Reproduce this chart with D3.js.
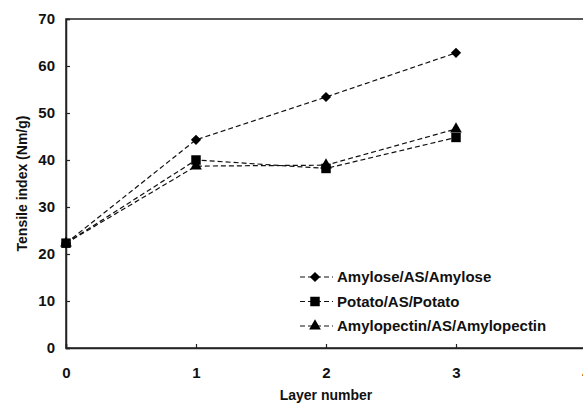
<!DOCTYPE html>
<html>
<head>
<meta charset="utf-8">
<script src="https://cdn.jsdelivr.net/npm/d3@7"></script>
<style>
  body { margin: 0; background: #fff; }
  svg { font-family: "Liberation Sans", Arial, sans-serif; font-weight: bold; }
</style>
</head>
<body>
<div id="chart"></div>
<script>
// chart data
const layers = [0, 1, 2, 3];
const seriesNames = ["Amylose/AS/Amylose", "Potato/AS/Potato", "Amylopectin/AS/Amylopectin"];
const amyloseVals = [22.3, 44.3, 53.4, 62.8];
const potatoVals = [22.3, 40.0, 38.2, 44.8];
const amylopectinVals = [22.3, 38.7, 38.9, 46.6];
const xTicks = [0, 1, 2, 3, 4];
const yTicks = [0, 10, 20, 30, 40, 50, 60, 70];

const series = [
  { name: seriesNames[0], values: amyloseVals, symbol: d3.symbolSquare, size: 52, rot: 45 },
  { name: seriesNames[1], values: potatoVals, symbol: d3.symbolSquare, size: 90, rot: 0 },
  { name: seriesNames[2], values: amylopectinVals, symbol: d3.symbolTriangle, size: 60, rot: 0 }
];

const W = 583, H = 403;
const margin = {top: 19, right: -3, bottom: 55, left: 66};
const width = W - margin.left - margin.right;
const height = H - margin.top - margin.bottom;

const svg = d3.select("#chart").append("svg")
  .attr("width", W)
  .attr("height", H);

const g = svg.append("g")
  .attr("transform", "translate(" + margin.left + "," + margin.top + ")");

const x = d3.scaleLinear().domain([0, 4]).range([0, width]);
const y = d3.scaleLinear().domain([0, 70]).range([height, 0]);

// frame
g.append("rect")
  .attr("x", 0).attr("y", 0)
  .attr("width", width).attr("height", height)
  .attr("fill", "none")
  .attr("stroke", "#222")
  .attr("stroke-width", 1.5);

// axes
const xAxis = g.append("g")
  .attr("transform", "translate(0," + height + ")")
  .call(d3.axisBottom(x).tickValues(xTicks).tickFormat(d3.format("d")).tickSize(-4).tickPadding(19));
const yAxis = g.append("g")
  .call(d3.axisLeft(y).tickValues(yTicks).tickSize(-4).tickPadding(11));

[xAxis, yAxis].forEach(a => {
  a.select(".domain").attr("stroke", "#222").attr("stroke-width", 1.5);
  a.selectAll(".tick line").attr("stroke", "#222").attr("stroke-width", 1.2);
  a.selectAll(".tick text")
    .attr("fill", "#111")
    .style("font-size", "15px")
    .style("font-weight", "bold")
    .style("font-family", "'Liberation Sans', Arial, sans-serif");
});

// axis titles
svg.append("text")
  .attr("x", margin.left + x(2))
  .attr("y", 400)
  .attr("text-anchor", "middle")
  .style("font-size", "14px")
  .attr("fill", "#111")
  .text("Layer number");

svg.append("text")
  .attr("transform", "translate(27," + (margin.top + y(35)) + ") rotate(-90)")
  .attr("text-anchor", "middle")
  .style("font-size", "14px")
  .attr("fill", "#111")
  .text("Tensile index (Nm/g)");

// lines and markers
const line = d3.line()
  .x((d, i) => x(layers[i]))
  .y(d => y(d));

series.forEach(s => {
  g.append("path")
    .datum(s.values)
    .attr("fill", "none")
    .attr("stroke", "#111")
    .attr("stroke-width", 1.2)
    .attr("stroke-dasharray", "5,3")
    .attr("d", line);

  g.selectAll(null)
    .data(s.values)
    .enter().append("path")
    .attr("transform", (d, i) => "translate(" + x(layers[i]) + "," + y(d) + ") rotate(" + s.rot + ")")
    .attr("d", d3.symbol().type(s.symbol).size(s.size))
    .attr("fill", "#000");
});

// legend
const legend = svg.append("g").attr("transform", "translate(300,277)");
series.forEach((s, i) => {
  const row = legend.append("g").attr("transform", "translate(0," + (i * 24.5) + ")");
  row.append("line")
    .attr("x1", 0).attr("x2", 33)
    .attr("stroke", "#111").attr("stroke-width", 1.2)
    .attr("stroke-dasharray", "5,3");
  row.append("path")
    .attr("transform", "translate(15,0) rotate(" + s.rot + ")")
    .attr("d", d3.symbol().type(s.symbol).size(s.size))
    .attr("fill", "#000");
  row.append("text")
    .attr("x", 37)
    .attr("dy", "0.35em")
    .style("font-size", "15px")
    .attr("fill", "#111")
    .text(s.name);
});
</script>
</body>
</html>
